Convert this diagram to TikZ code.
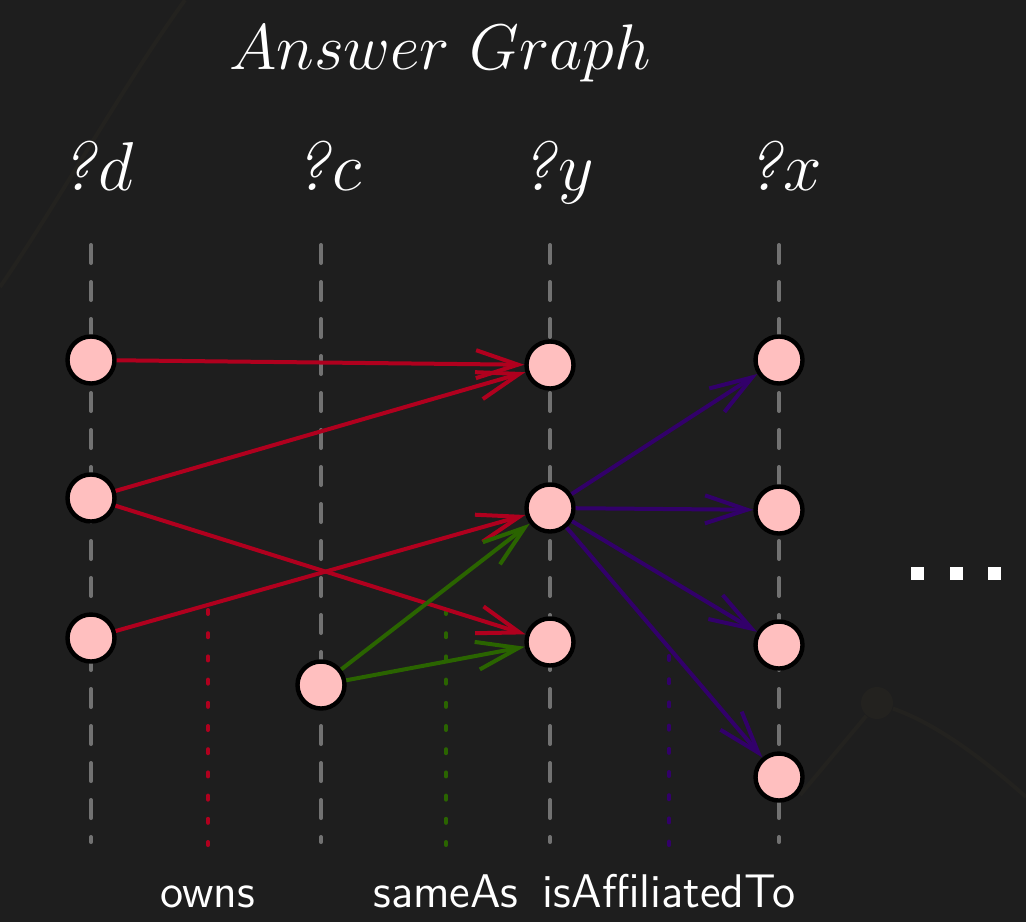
\documentclass[tikz,border=0pt]{standalone}
\usepackage{graphicx}
\usetikzlibrary{arrows.meta,backgrounds}
\definecolor{bg}{HTML}{1E1E1E}
\definecolor{faint}{HTML}{23221F}
\definecolor{ered}{HTML}{B0001E}
\definecolor{egreen}{HTML}{2A6400}
\definecolor{epurple}{HTML}{32006A}
\definecolor{dgray}{HTML}{727272}
\definecolor{nodepink}{HTML}{FFBFBF}
\begin{document}
\begin{tikzpicture}[x=0.25pt,y=-0.25pt,
  ent/.style={circle,draw=black,fill=nodepink,line width=1.1pt,minimum size=11.75pt,inner sep=0pt},
  guide/.style={dgray,line width=1pt,line cap=round,dash pattern=on 4.5pt off 4.75pt},
  relguide/.style={line width=1pt,line cap=round,dash pattern=on 1pt off 4.8pt},
  rel/.style={line width=1pt,-{Straight Barb[length=10.5pt,width=7pt]}},
  vartext/.style={anchor=base,text=white,font=\fontsize{17.28}{22}\selectfont},
  labtext/.style={anchor=base,text=white,font=\sffamily\fontsize{11.8}{14}\selectfont},
  dotsq/.style={fill=white,minimum size=3.25pt,inner sep=0pt}]
\useasboundingbox (0,0) rectangle (1026,922);

% nodes
\node[ent] (d1) at (91,360) {};
\node[ent] (d2) at (91,498) {};
\node[ent] (d3) at (91,638) {};
\node[ent] (c1) at (321,685) {};
\node[ent] (y1) at (550,365) {};
\node[ent] (y2) at (550,508) {};
\node[ent] (y3) at (550,642) {};
\node[ent] (x1) at (779,360) {};
\node[ent] (x2) at (779,510) {};
\node[ent] (x3) at (779,645) {};
\node[ent] (x4) at (779,777) {};

% texts
\node[anchor=base,text=white,font=\fontsize{17.28}{20}\selectfont] (title) at (440,69) {\scalebox{0.933}{$Answer\ Graph$}};
\node[vartext] (vd) at (97,190) {\textit{?}$d$};
\node[vartext] (vc) at (328,190) {\textit{?}$c$};
\node[vartext] (vy) at (557,190) {\textit{?}$y$};
\node[vartext] (vx) at (784,190) {\textit{?}$x$};
\node[labtext] (lowns) at (208,907) {owns};
\node[labtext] (lsame) at (446,907) {sameAs};
\node[labtext] (laff) at (669,907) {isAffiliatedTo};
\node[dotsq] (dot1) at (917,573) {};
\node[dotsq] (dot2) at (956,573) {};
\node[dotsq] (dot3) at (994,573) {};

% guide coordinates
\coordinate (dT) at (91,245);  \coordinate (dB) at (91,842);
\coordinate (cT) at (321,245); \coordinate (cB) at (321,842);
\coordinate (yT) at (550,245); \coordinate (yB) at (550,842);
\coordinate (xT) at (779,245); \coordinate (xB) at (779,842);
\coordinate (oT) at (208,610); \coordinate (oB) at (208,845);
\coordinate (sT) at (446,610); \coordinate (sB) at (446,845);
\coordinate (aT) at (669,656); \coordinate (aB) at (669,845);
\coordinate (f1) at (0,287);   \coordinate (f2) at (185,0);
\coordinate (f4) at (800,795); \coordinate (f5) at (1026,797);

\begin{scope}[on background layer]
  \fill[bg] (0,0) rectangle (1026,922);
  % faint background decoration
  \draw[faint,line width=1pt] (f1) .. controls (60,200) and (120,90) .. (f2);
  \node[circle,fill=faint,minimum size=8pt,inner sep=0pt] (blob) at (877,703) {};
  \draw[faint,line width=1pt] (blob) -- (f4);
  \draw[faint,line width=1pt] (blob) .. controls (940,725) and (990,765) .. (f5);
  % guides
  \draw[guide] (dT) -- (dB);
  \draw[guide] (cT) -- (cB);
  \draw[guide] (yT) -- (yB);
  \draw[guide] (xT) -- (xB);
  \draw[relguide,ered] (oT) -- (oB);
  \draw[relguide,egreen] (sT) -- (sB);
  \draw[relguide,epurple] (aT) -- (aB);
\end{scope}

% relations
\draw[rel,ered] (d1) -- (y1);
\draw[rel,ered] (d2) -- (y1);
\draw[rel,ered] (d2) -- (y3);
\draw[rel,ered] (d3) -- (y2);
\draw[rel,egreen] (c1) -- (y2);
\draw[rel,egreen] (c1) -- (y3);
\draw[rel,epurple] (y2) -- (x1);
\draw[rel,epurple] (y2) -- (x2);
\draw[rel,epurple] (y2) -- (x3);
\draw[rel,epurple] (y2) -- (x4);
\end{tikzpicture}
\end{document}
